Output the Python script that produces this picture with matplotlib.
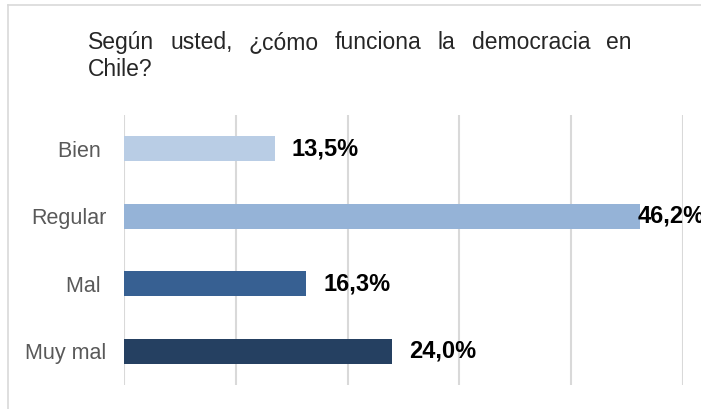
import matplotlib
matplotlib.use("Agg")
import matplotlib.pyplot as plt
from matplotlib.lines import Line2D

# datos
categorias = ["Bien ", "Regular", "Mal ", "Muy mal"]
valores = [13.5, 46.2, 16.3, 24.0]
etiquetas = ["13,5%", "46,2%", "16,3%", "24,0%"]
colores = ["#b9cde5", "#95b3d7", "#376092", "#254061"]
titulo_l1 = "Según usted, ¿cómo funciona la democracia en"
titulo_l2 = "Chile?"

plt.rcParams['font.family'] = ['Liberation Sans', 'DejaVu Sans']

W, H = 701, 409
TAM_TITULO = 16.5
fig = plt.figure(figsize=(W / 100, H / 100), dpi=100)
ax = fig.add_axes([124.5 / W, (H - 385) / H, 558 / W, 270 / H])

pos = list(range(len(categorias)))
ax.barh(pos, valores, height=0.37, color=colores, zorder=2)
ax.set_xlim(0, 50)
ax.set_ylim(3.5, -0.5)
ax.set_xticks(range(0, 51, 10))
ax.set_xticklabels([])
ax.tick_params(axis='x', length=0)
ax.tick_params(axis='y', length=0, pad=13)
ax.set_yticks(pos)
ax.set_yticklabels(categorias, fontsize=15.5, color="#595959")
ax.grid(axis='x', color="#d9d9d9", linewidth=1.5, zorder=0)
for s in ax.spines.values():
    s.set_visible(False)

for i, (v, t) in enumerate(zip(valores, etiquetas)):
    if v > 40:
        ax.annotate(t, (v, i), xytext=(-2, 0), textcoords='offset points',
                    ha='left', va='center', fontsize=17, fontweight='bold',
                    color='black', zorder=3, annotation_clip=False)
    else:
        ax.annotate(t, (v, i), xytext=(12, 0), textcoords='offset points',
                    ha='left', va='center', fontsize=17, fontweight='bold',
                    color='black', zorder=3)

# borde del grafico
fig.add_artist(Line2D([8 / W, 8 / W], [0, (H - 5) / H], color="#d9d9d9", linewidth=1.2))
fig.add_artist(Line2D([8 / W, 1], [(H - 5) / H, (H - 5) / H], color="#d9d9d9", linewidth=1.2))

# titulo justificado
x0, x1 = 88, 632
y1 = (H - 49.3) / H
y2 = (H - 76) / H
palabras = titulo_l1.split(" ")
renderer = fig.canvas.get_renderer()
anchos = []
for p in palabras:
    t = fig.text(0, 0, p, fontsize=TAM_TITULO, color="#262626")
    anchos.append(t.get_window_extent(renderer).width)
    t.remove()
hueco = (x1 - x0 - sum(anchos)) / (len(palabras) - 1)
x = x0
for p, a in zip(palabras, anchos):
    fig.text(x / W, y1, p, fontsize=TAM_TITULO, color="#262626", va='baseline')
    x += a + hueco
fig.text(x0 / W, y2, titulo_l2, fontsize=TAM_TITULO, color="#262626", va='baseline')

fig.savefig("out.png", dpi=100)
